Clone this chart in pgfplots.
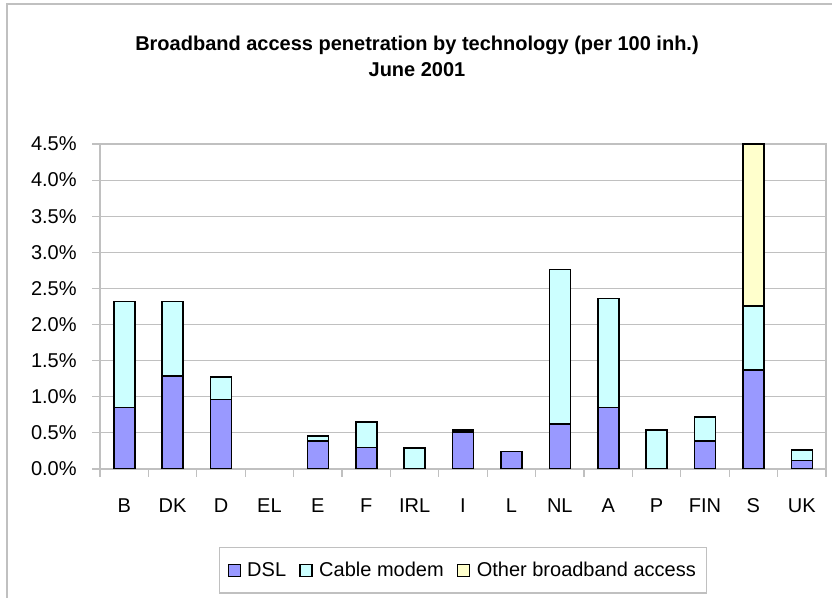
\documentclass[border=0pt]{standalone}
\usepackage{pgfplots}
\pgfplotsset{compat=1.18}
\usepackage{fontspec}
\setmainfont{Liberation Sans}
\definecolor{dsl}{HTML}{9999FF}
\definecolor{cable}{HTML}{CCFFFF}
\definecolor{other}{HTML}{FFFFCC}
\definecolor{frame}{HTML}{C0C0C0}
\newcommand{\chartfont}{\fontsize{15}{18}\selectfont}

\begin{document}
\begin{tikzpicture}
\useasboundingbox (0,0) rectangle (624pt,448.5pt);
\begin{scope}[x=0.75pt,y=-0.75pt,shift={(0,448.5pt)}]
  \draw[frame, line width=1.2pt] (7,598) -- (7,4) -- (832,4);
  \node[font=\chartfont\bfseries] at (417,45) {Broadband access penetration by technology (per 100 inh.)};
  \node[font=\chartfont\bfseries] at (417,70) {June 2001};
\end{scope}
\begin{axis}[
    at={(75pt,96.75pt)}, anchor=south west,
    scale only axis, width=544.5pt, height=243.75pt,
    xmin=-0.5, xmax=14.5,
    ymin=0, ymax=4.5,
    xtick={0,...,14},
    xticklabels={B,DK,D,EL,E,F,IRL,I,L,NL,A,P,FIN,S,UK},
    minor xtick={-0.5,0.5,...,14.5},
    ytick={0,0.5,...,4.5},
    xtick pos=bottom, ytick pos=left,
    yticklabel={\pgfmathprintnumber[fixed,fixed zerofill,precision=1]{\tick}\%},
    /pgf/number format/assume math mode=true,
    tick align=outside,
    major tick length=6pt,
    minor tick length=6pt,
    major x tick style={draw=none},
    minor x tick style={frame, line width=0.8pt},
    ytick style={frame, line width=0.8pt},
    axis line style={frame, line width=0.8pt},
    ymajorgrids=true,
    grid style={frame, line width=0.8pt},
    tick label style={font=\chartfont},
    xticklabel style={text height=11pt, yshift=-12.2pt},
    yticklabel style={xshift=-8pt},
    ybar, bar width=15.75pt, bar shift=0pt,
    reverse legend,
    legend columns=-1,
    legend style={at={(0.5,-0.311)}, anchor=center, draw=frame, line width=0.8pt,
      font=\chartfont, inner xsep=6pt, inner ysep=9pt,
      /tikz/every odd column/.append style={column sep=3pt},
      /tikz/every even column/.append style={column sep=8pt}},
    legend image code/.code={\draw[#1, line width=0.8pt] (0pt,-4.5pt) rectangle (9pt,4.5pt);},
]
% totals (top of the stack)
\addplot[draw=black, line width=1.2pt, fill=other] coordinates {(13,4.50)};
\addlegendentry{Other broadband access}
% DSL + cable modem
\addplot[draw=black, line width=1.2pt, fill=cable] coordinates {
  (0,2.32)(1,2.32)(2,1.27)(4,0.46)(5,0.65)(6,0.29)(7,0.54)
  (9,2.76)(10,2.36)(11,0.54)(12,0.72)(13,2.26)(14,0.26)};
\addlegendentry{Cable modem}
% DSL
\addplot[draw=black, line width=1.2pt, fill=dsl] coordinates {
  (0,0.85)(1,1.29)(2,0.96)(4,0.39)(5,0.30)(7,0.51)(8,0.24)
  (9,0.62)(10,0.85)(12,0.39)(13,1.37)(14,0.12)};
\addlegendentry{DSL}
\end{axis}
\end{tikzpicture}
\end{document}
